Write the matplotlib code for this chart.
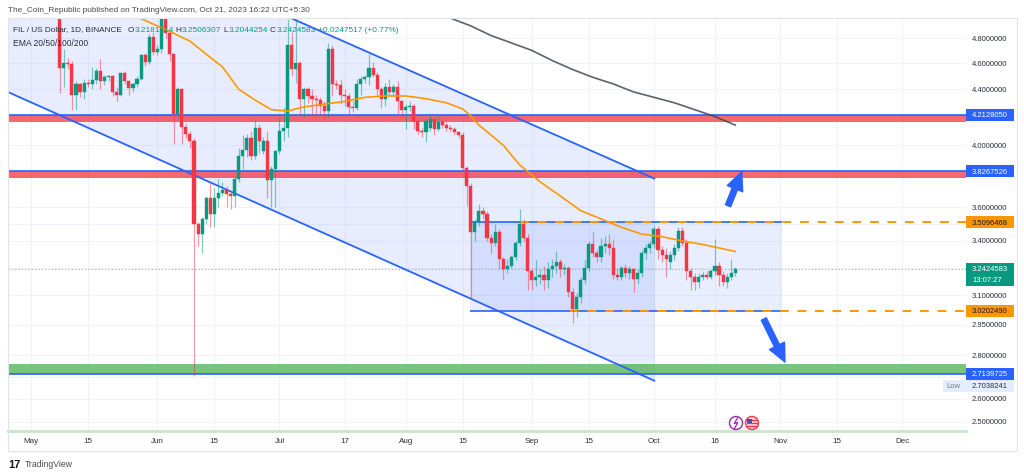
import numpy as np
import pandas as pd
import matplotlib
matplotlib.use("Agg")
import matplotlib.pyplot as plt
import matplotlib.dates as mdates
import matplotlib.transforms as mtransforms
from matplotlib.patches import Rectangle, Polygon, Circle
from matplotlib.lines import Line2D
from matplotlib.ticker import NullLocator, NullFormatter

plt.rcParams['font.family'] = ['Liberation Sans', 'DejaVu Sans']

# ---------------- data ----------------
dates = pd.date_range("2023-05-08", "2023-10-21", freq="D")

opens = [5.05,4.56,4.60,4.59,4.36,4.44,4.38,4.45,4.44,4.47,4.54,4.46,4.49,4.50,4.38,4.36,4.52,4.46,4.41,4.44,4.48,4.66,4.61,4.81,
         4.69,4.71,4.96,4.84,4.67,4.22,4.40,4.13,4.08,4.03,3.50,3.44,3.53,3.66,3.56,3.66,3.69,3.71,3.68,3.67,3.78,3.93,3.97,4.05,3.93,4.12,3.96,4.03,3.77,3.84,
         3.96,4.10,4.12,4.74,4.55,4.60,4.33,4.40,4.35,4.33,4.32,4.28,4.24,4.71,4.44,4.43,4.36,4.35,4.27,4.26,4.44,4.48,4.49,4.56,4.51,4.40,4.33,4.42,4.38,4.42,4.31,
         4.25,4.27,4.28,4.17,4.10,4.09,4.12,4.18,4.11,4.16,4.14,4.12,4.11,4.09,4.07,3.85,3.73,3.45,3.51,3.58,3.56,3.42,3.39,3.45,3.30,3.24,3.26,3.31,3.39,3.50,3.42,
         3.23,3.18,3.20,3.21,3.18,3.24,3.26,3.28,3.24,3.25,3.12,3.03,3.09,3.18,3.25,3.38,3.33,3.31,3.37,3.38,3.36,3.21,3.20,3.25,3.22,3.24,3.19,3.22,3.33,3.36,
         3.38,3.47,3.35,3.32,3.28,3.32,3.36,3.46,3.39,3.23,3.20,3.17,3.20,3.21,3.20,3.23,3.26,3.21,3.17,3.20,3.2181814]
highs = [5.15,4.71,4.64,4.62,4.46,4.45,4.48,4.48,4.57,4.56,4.63,4.51,4.51,4.51,4.42,4.53,4.54,4.47,4.45,4.50,4.67,4.68,4.83,4.85,
         4.74,5.00,5.02,4.86,4.68,4.42,4.41,4.15,4.10,4.05,3.51,3.54,3.67,3.75,3.72,3.78,3.76,3.73,3.70,3.79,3.98,4.07,4.08,4.10,4.19,4.15,4.06,4.10,3.86,3.97,
         4.20,4.27,4.96,4.85,4.97,4.62,4.42,4.42,4.40,4.36,4.34,4.31,4.76,4.74,4.47,4.48,4.40,4.37,4.31,4.48,4.50,4.51,4.67,4.61,4.53,4.42,4.45,4.48,4.44,4.46,4.32,
         4.29,4.31,4.29,4.18,4.12,4.19,4.22,4.19,4.22,4.18,4.16,4.14,4.13,4.10,4.09,3.86,3.75,3.53,3.62,3.60,3.58,3.44,3.50,3.47,3.31,3.30,3.32,3.40,3.59,3.53,3.44,
         3.25,3.29,3.24,3.26,3.28,3.30,3.34,3.30,3.27,3.26,3.14,3.11,3.20,3.29,3.40,3.45,3.35,3.42,3.43,3.44,3.41,3.25,3.26,3.27,3.26,3.25,3.24,3.35,3.38,3.40,
         3.49,3.49,3.37,3.36,3.34,3.38,3.48,3.48,3.41,3.25,3.22,3.22,3.23,3.23,3.24,3.41,3.28,3.23,3.22,3.30,3.2506307]
lows = [4.37,4.42,4.55,4.25,4.25,4.34,4.33,4.42,4.40,4.44,4.40,4.43,4.46,4.35,4.31,4.35,4.44,4.36,4.38,4.42,4.47,4.58,4.59,4.66,
        4.66,4.68,4.80,4.62,4.01,4.19,4.01,4.05,3.98,2.704,3.37,3.33,3.50,3.48,3.48,3.60,3.67,3.60,3.59,3.60,3.76,3.84,3.92,3.90,3.91,3.95,3.94,3.66,3.60,3.60,
        3.94,4.03,4.06,4.50,4.45,4.22,4.20,4.30,4.22,4.20,4.22,4.18,4.20,4.35,4.40,4.29,4.28,4.22,4.23,4.25,4.36,4.45,4.43,4.49,4.35,4.26,4.28,4.36,4.36,4.22,4.20,
        4.11,4.24,4.11,4.08,4.06,4.02,4.10,4.07,4.10,4.12,4.10,4.09,4.07,4.05,3.83,3.61,3.08,3.40,3.49,3.53,3.40,3.33,3.37,3.24,3.19,3.22,3.25,3.29,3.37,3.40,3.13,
        3.13,3.15,3.16,3.13,3.14,3.20,3.22,3.20,3.21,3.09,2.96,2.99,3.06,3.16,3.23,3.31,3.28,3.28,3.33,3.32,3.19,3.18,3.18,3.20,3.19,3.12,3.16,3.20,3.30,3.33,
        3.36,3.30,3.28,3.20,3.24,3.29,3.34,3.37,3.18,3.13,3.13,3.14,3.18,3.19,3.19,3.21,3.15,3.15,3.14,3.18,3.2044254]
closes = [4.56,4.60,4.59,4.36,4.44,4.38,4.45,4.44,4.47,4.54,4.46,4.49,4.50,4.38,4.36,4.52,4.46,4.41,4.44,4.48,4.66,4.61,4.81,4.69,
          4.71,4.96,4.84,4.67,4.22,4.40,4.13,4.08,4.03,3.50,3.44,3.53,3.66,3.56,3.66,3.69,3.71,3.68,3.67,3.78,3.93,3.97,4.05,3.93,4.12,4.03,4.03,3.77,3.84,3.96,
          4.10,4.12,4.74,4.55,4.60,4.33,4.40,4.35,4.33,4.32,4.28,4.24,4.71,4.44,4.43,4.36,4.35,4.27,4.26,4.44,4.48,4.49,4.56,4.51,4.40,4.33,4.42,4.38,4.42,4.31,4.25,
          4.27,4.28,4.17,4.10,4.09,4.17,4.18,4.11,4.16,4.14,4.12,4.11,4.09,4.07,3.85,3.73,3.45,3.51,3.58,3.56,3.42,3.39,3.45,3.30,3.24,3.26,3.31,3.39,3.50,3.42,3.23,
          3.18,3.20,3.21,3.18,3.24,3.26,3.28,3.24,3.25,3.12,3.03,3.09,3.18,3.25,3.38,3.33,3.31,3.37,3.38,3.36,3.21,3.20,3.25,3.22,3.24,3.19,3.22,3.33,3.36,3.38,
          3.47,3.35,3.32,3.30,3.32,3.36,3.46,3.39,3.23,3.20,3.17,3.20,3.21,3.20,3.23,3.26,3.21,3.17,3.20,3.2181814,3.2424583]

ema50_dates = ['2023-05-22','2023-05-28','2023-06-03','2023-06-09','2023-06-13','2023-06-17','2023-06-21','2023-06-25',
               '2023-06-29','2023-07-03','2023-07-07','2023-07-12','2023-07-17','2023-07-22','2023-07-27','2023-08-01',
               '2023-08-06','2023-08-11','2023-08-15','2023-08-17','2023-08-19','2023-08-22','2023-08-25','2023-08-29',
               '2023-09-03','2023-09-08','2023-09-13','2023-09-18','2023-09-23','2023-09-28','2023-10-03','2023-10-08',
               '2023-10-13','2023-10-17','2023-10-21']
ema50_vals = [5.05,4.96,4.87,4.775,4.67,4.57,4.40,4.32,4.25,4.24,4.27,4.29,4.31,4.34,4.35,4.35,4.33,4.30,4.255,4.205,
              4.14,4.07,4.00,3.87,3.76,3.67,3.58,3.53,3.48,3.44,3.425,3.40,3.38,3.36,3.34]

ema200_dates = ['2023-08-08','2023-08-12','2023-08-17','2023-08-22','2023-08-27','2023-09-01','2023-09-06','2023-09-11',
                '2023-09-16','2023-09-21','2023-09-26','2023-10-01','2023-10-06','2023-10-11','2023-10-16','2023-10-21']
ema200_vals = [5.07,4.965,4.90,4.82,4.76,4.70,4.62,4.55,4.49,4.44,4.38,4.34,4.30,4.25,4.20,4.14]

resistance_levels = [4.2128050, 3.8267526]
resistance_bottoms = [4.160, 3.782]
support_level = 2.7139725
support_top = 2.757
range_top = 3.5096468
range_bottom = 3.0202490
last_price = 3.2424583
period_low = 2.7038241

price_ticks = [4.8, 4.6, 4.4, 4.2, 4.0, 3.8, 3.6, 3.5, 3.4, 3.25, 3.1, 2.95, 2.8, 2.7, 2.6, 2.5]
# ticks whose labels sit under the drawing price labels (grid line only)
price_ticks_hidden = [4.2, 3.8, 3.5, 3.25, 2.7]
date_ticks = ["2023-05-01","2023-05-15","2023-06-01","2023-06-15","2023-07-01","2023-07-17","2023-08-01","2023-08-15",
              "2023-09-01","2023-09-15","2023-10-01","2023-10-16","2023-11-01","2023-11-15","2023-12-01"]
date_tick_labels = ["May","15","Jun","15","Jul","17","Aug","15","Sep","15","Oct","16","Nov","15","Dec"]

# drawing anchors (date, price)
channel_upper = [("2023-04-25 07:10", 6.14), ("2023-10-01 07:00", 3.778)]
channel_lower = [("2023-04-25 07:10", 4.379), ("2023-10-01 07:00", 2.68)]
range_box_x = ("2023-08-16 20:00", "2023-11-01 12:00")
dash_top_start = "2023-08-29 00:00"
dash_bottom_start = "2023-09-10 10:00"
arrow_up = (("2023-10-19 05:00", 3.61), ("2023-10-22 14:00", 3.823))
arrow_down = (("2023-10-28 00:00", 2.978), ("2023-11-02 05:00", 2.768))

# ---------------- style ----------------
GREEN = '#089981'
RED = '#F23645'
BLUE = '#2962FF'
ORANGE = '#FF9800'
TXT = '#2a2e39'

W, H = 1024, 477
fig = plt.figure(figsize=(W / 100, H / 100), dpi=100)
fig.patch.set_facecolor('white')
PL, PR, PT, PB = 8, 966, 19, 432
ax = fig.add_axes([PL / W, 1 - PB / H, (PR - PL) / W, (PB - PT) / H])
ax.set_facecolor('white')
ax.set_yscale('log')
ax.set_ylim(2.462, 4.966)
xmin = mdates.date2num(pd.Timestamp('2023-04-25 07:10'))
xmax = mdates.date2num(pd.Timestamp('2023-12-16 16:20'))
ax.set_xlim(xmin, xmax)
ax.yaxis.set_minor_locator(NullLocator())
ax.yaxis.set_minor_formatter(NullFormatter())
ax.set_yticks(price_ticks)
ax.yaxis.set_major_formatter(NullFormatter())
ax.tick_params(axis='y', length=0, labelleft=False)
ax.set_xticks(mdates.date2num(pd.to_datetime(date_ticks)))
ax.set_xticklabels(date_tick_labels, fontsize=5.8, color=TXT)
ax.xaxis.set_minor_locator(NullLocator())
ax.tick_params(axis='x', length=0, pad=4.5)
ax.grid(True, color='#F0F3FA', lw=0.8, zorder=0)
ax.set_axisbelow(True)
for s in ax.spines.values():
    s.set_visible(False)

def dn(s):
    return mdates.date2num(pd.Timestamp(s))

# channel fill and lines
cu = [(dn(d), p) for d, p in channel_upper]
cl = [(dn(d), p) for d, p in channel_lower]
ax.add_patch(Polygon([cu[0], cu[1], cl[1], cl[0]], closed=True, fc=BLUE, alpha=0.11, ec='none', zorder=1))
ax.plot([c[0] for c in cu], [c[1] for c in cu], color=BLUE, lw=1.3, zorder=3, solid_capstyle='butt')
ax.plot([c[0] for c in cl], [c[1] for c in cl], color=BLUE, lw=1.3, zorder=3, solid_capstyle='butt')

# range box
rx0, rx1 = dn(range_box_x[0]), dn(range_box_x[1])
ax.add_patch(Rectangle((rx0, range_bottom), rx1 - rx0, range_top - range_bottom, fc=BLUE, alpha=0.10, ec='none', zorder=1))
ax.hlines([range_top, range_bottom], rx0, rx1, color=BLUE, lw=1.2, zorder=3)
ax.hlines(range_top, dn(dash_top_start), xmax, color=ORANGE, lw=1.4, linestyles=(0, (4.5, 4.5)), zorder=3.5)
ax.hlines(range_bottom, dn(dash_bottom_start), xmax, color=ORANGE, lw=1.4, linestyles=(0, (4.5, 4.5)), zorder=3.5)

# resistance / support bands
for top, bot in zip(resistance_levels, resistance_bottoms):
    ax.axhspan(bot, top, color=RED, alpha=0.75, lw=0, zorder=2)
    ax.axhline(top, color=BLUE, lw=1.2, zorder=3)
ax.axhspan(support_level, support_top, color='#4CAF50', alpha=0.75, lw=0, zorder=2)
ax.axhline(support_level, color=BLUE, lw=1.2, zorder=3)

# last price dotted line
ax.axhline(last_price, color='#9598A1', lw=0.8, ls=(0, (1, 2)), alpha=0.8, zorder=2.5)

# candles
x = mdates.date2num(dates)
O = np.array(opens); Hh = np.array(highs); Lw = np.array(lows); C = np.array(closes)
up = C >= O
cols = np.where(up, GREEN, RED)
ax.vlines(x, Lw, Hh, colors=cols, lw=0.9, alpha=0.5, zorder=4)
ax.bar(x, np.abs(C - O), bottom=np.minimum(O, C), width=0.76, color=cols, edgecolor=cols, lw=0.3, zorder=5)

# EMAs
ax.plot(mdates.date2num(pd.to_datetime(ema50_dates)), ema50_vals, color=ORANGE, lw=1.2, zorder=6)
ax.plot(mdates.date2num(pd.to_datetime(ema200_dates)), ema200_vals, color='#434651', lw=1.2, alpha=0.85, zorder=6)

# arrows
for (t0, p0), (t1, p1) in [arrow_up, arrow_down]:
    ax.annotate('', xy=(dn(t1), p1), xytext=(dn(t0), p0),
                arrowprops=dict(arrowstyle='simple,head_length=1.3,head_width=1.2,tail_width=0.4',
                                color=BLUE, mutation_scale=10, shrinkA=0, shrinkB=0), zorder=7)

# bottom light green line
ax.axhline(ax.get_ylim()[0], color='#C8E6C9', lw=2.0, zorder=3, clip_on=False)

# ---------------- price scale ----------------
trans = mtransforms.blended_transform_factory(fig.transFigure, ax.transData)
for v in price_ticks:
    if v in price_ticks_hidden:
        continue
    ax.text(972 / W, v, f"{v:.7f}", transform=trans, fontsize=5.5, va='center', ha='left', color=TXT, clip_on=False)

def ypix(v):
    return ax.transData.transform((xmin, v))[1]

def price_box(v, text, fc, tc, top_off=6, bot_off=6, x0=966, x1=1014):
    yd = ypix(v)
    fig.add_artist(Rectangle((x0 / W, (yd - bot_off) / H), (x1 - x0) / W, (top_off + bot_off) / H,
                             transform=fig.transFigure, fc=fc, ec='none', zorder=10))
    fig.text(972 / W, yd / H, text, color=tc, fontsize=5.5, va='center', ha='left', zorder=11)
    return yd

price_box(resistance_levels[0], "4.2128050", BLUE, 'white')
price_box(resistance_levels[1], "3.8267526", BLUE, 'white')
price_box(range_top, "3.5096468", ORANGE, '#131722')
price_box(range_bottom, "3.0202490", ORANGE, '#131722')
yd_sup = price_box(support_level, "2.7139725", BLUE, 'white')
yd_last = price_box(last_price, "3.2424583", GREEN, 'white', top_off=6, bot_off=17)
fig.text(972 / W, (yd_last - 11) / H, "13:07:27", color='white', fontsize=5.5, va='center', ha='left', zorder=11)
# Low label
yl = yd_sup - 12
fig.add_artist(Rectangle((943 / W, (yl - 6) / H), (1014 - 943) / W, 12 / H, transform=fig.transFigure,
                         fc='#E3EDFD', ec='none', zorder=10))
fig.text(946 / W, yl / H, "Low", color='#787B86', fontsize=5.5, va='center', ha='left', zorder=11)
fig.text(972 / W, yl / H, f"{period_low:.7f}", color=TXT, fontsize=5.5, va='center', ha='left', zorder=11)

# frame
fig.add_artist(Rectangle((8 / W, 1 - 452 / H), (1017 - 8) / W, (452 - 19) / H, transform=fig.transFigure,
                         fill=False, ec='#E0E3EB', lw=0.8, zorder=9))

# ---------------- texts ----------------
renderer = fig.canvas.get_renderer()

def seq_fit(x_px, y_px, pieces, target_w):
    base = 10.0
    em_px = base * 100 / 72
    ts, ws = [], []
    for s, c, g in pieces:
        t = fig.text(0, 0, s, fontsize=base, color=c, va='center', ha='left', zorder=12)
        ws.append(t.get_window_extent(renderer).width + g * em_px)
        ts.append(t)
    k = target_w / sum(ws)
    xx = x_px
    for t, w in zip(ts, ws):
        t.set_fontsize(base * k)
        t.set_position((xx / W, 1 - y_px / H))
        xx += w * k

seq_fit(8, 10, [("The_Coin_Republic published on TradingView.com, Oct 21, 2023 16:22 UTC+5:30", '#4a4a4a', 0)], 304)
seq_fit(13, 30, [("FIL / US Dollar, 1D, BINANCE", '#2a2e39', 0.55),
                 ("O", '#2a2e39', 0.02), ("3.2181814", GREEN, 0.3),
                 ("H", '#2a2e39', 0.02), ("3.2506307", GREEN, 0.3),
                 ("L", '#2a2e39', 0.02), ("3.2044254", GREEN, 0.3),
                 ("C", '#2a2e39', 0.02), ("3.2424583", GREEN, 0.3),
                 ("+0.0247517 (+0.77%)", GREEN, 0)], 385)
seq_fit(13, 43, [("EMA 20/50/100/200", '#2a2e39', 0)], 75)
fig.text(8 / W, 1 - 465 / H, "17", fontsize=8, fontweight='bold', color='#131722', va='center', ha='left')
seq_fit(25, 465, [("TradingView", '#4a4a4a', 0)], 48)

# event icons
idt = mtransforms.IdentityTransform()
fig.add_artist(Circle((736, H - 424), 6.5, transform=idt, fc='white', ec='#9C27B0', lw=1.0, zorder=12))
fig.add_artist(Line2D([737.5, 734.2, 737.8, 734.5], [H - 419, H - 424.5, H - 423.5, H - 429.5],
                      transform=idt, color='#9C27B0', lw=0.9, zorder=13))
fig.add_artist(Circle((752, H - 424), 6.5, transform=idt, fc='#FDE3E5', ec=RED, lw=1.0, zorder=12))
for dy in (-3, 0, 3):
    fig.add_artist(Line2D([747, 757], [H - 424 + dy, H - 424 + dy], transform=idt, color=RED, lw=1.0, zorder=13))
fig.add_artist(Rectangle((747, H - 424), 4.5, 4, transform=idt, fc='#3F51B5', ec='none', zorder=14))

fig.savefig('out.png', dpi=100, facecolor='white')
